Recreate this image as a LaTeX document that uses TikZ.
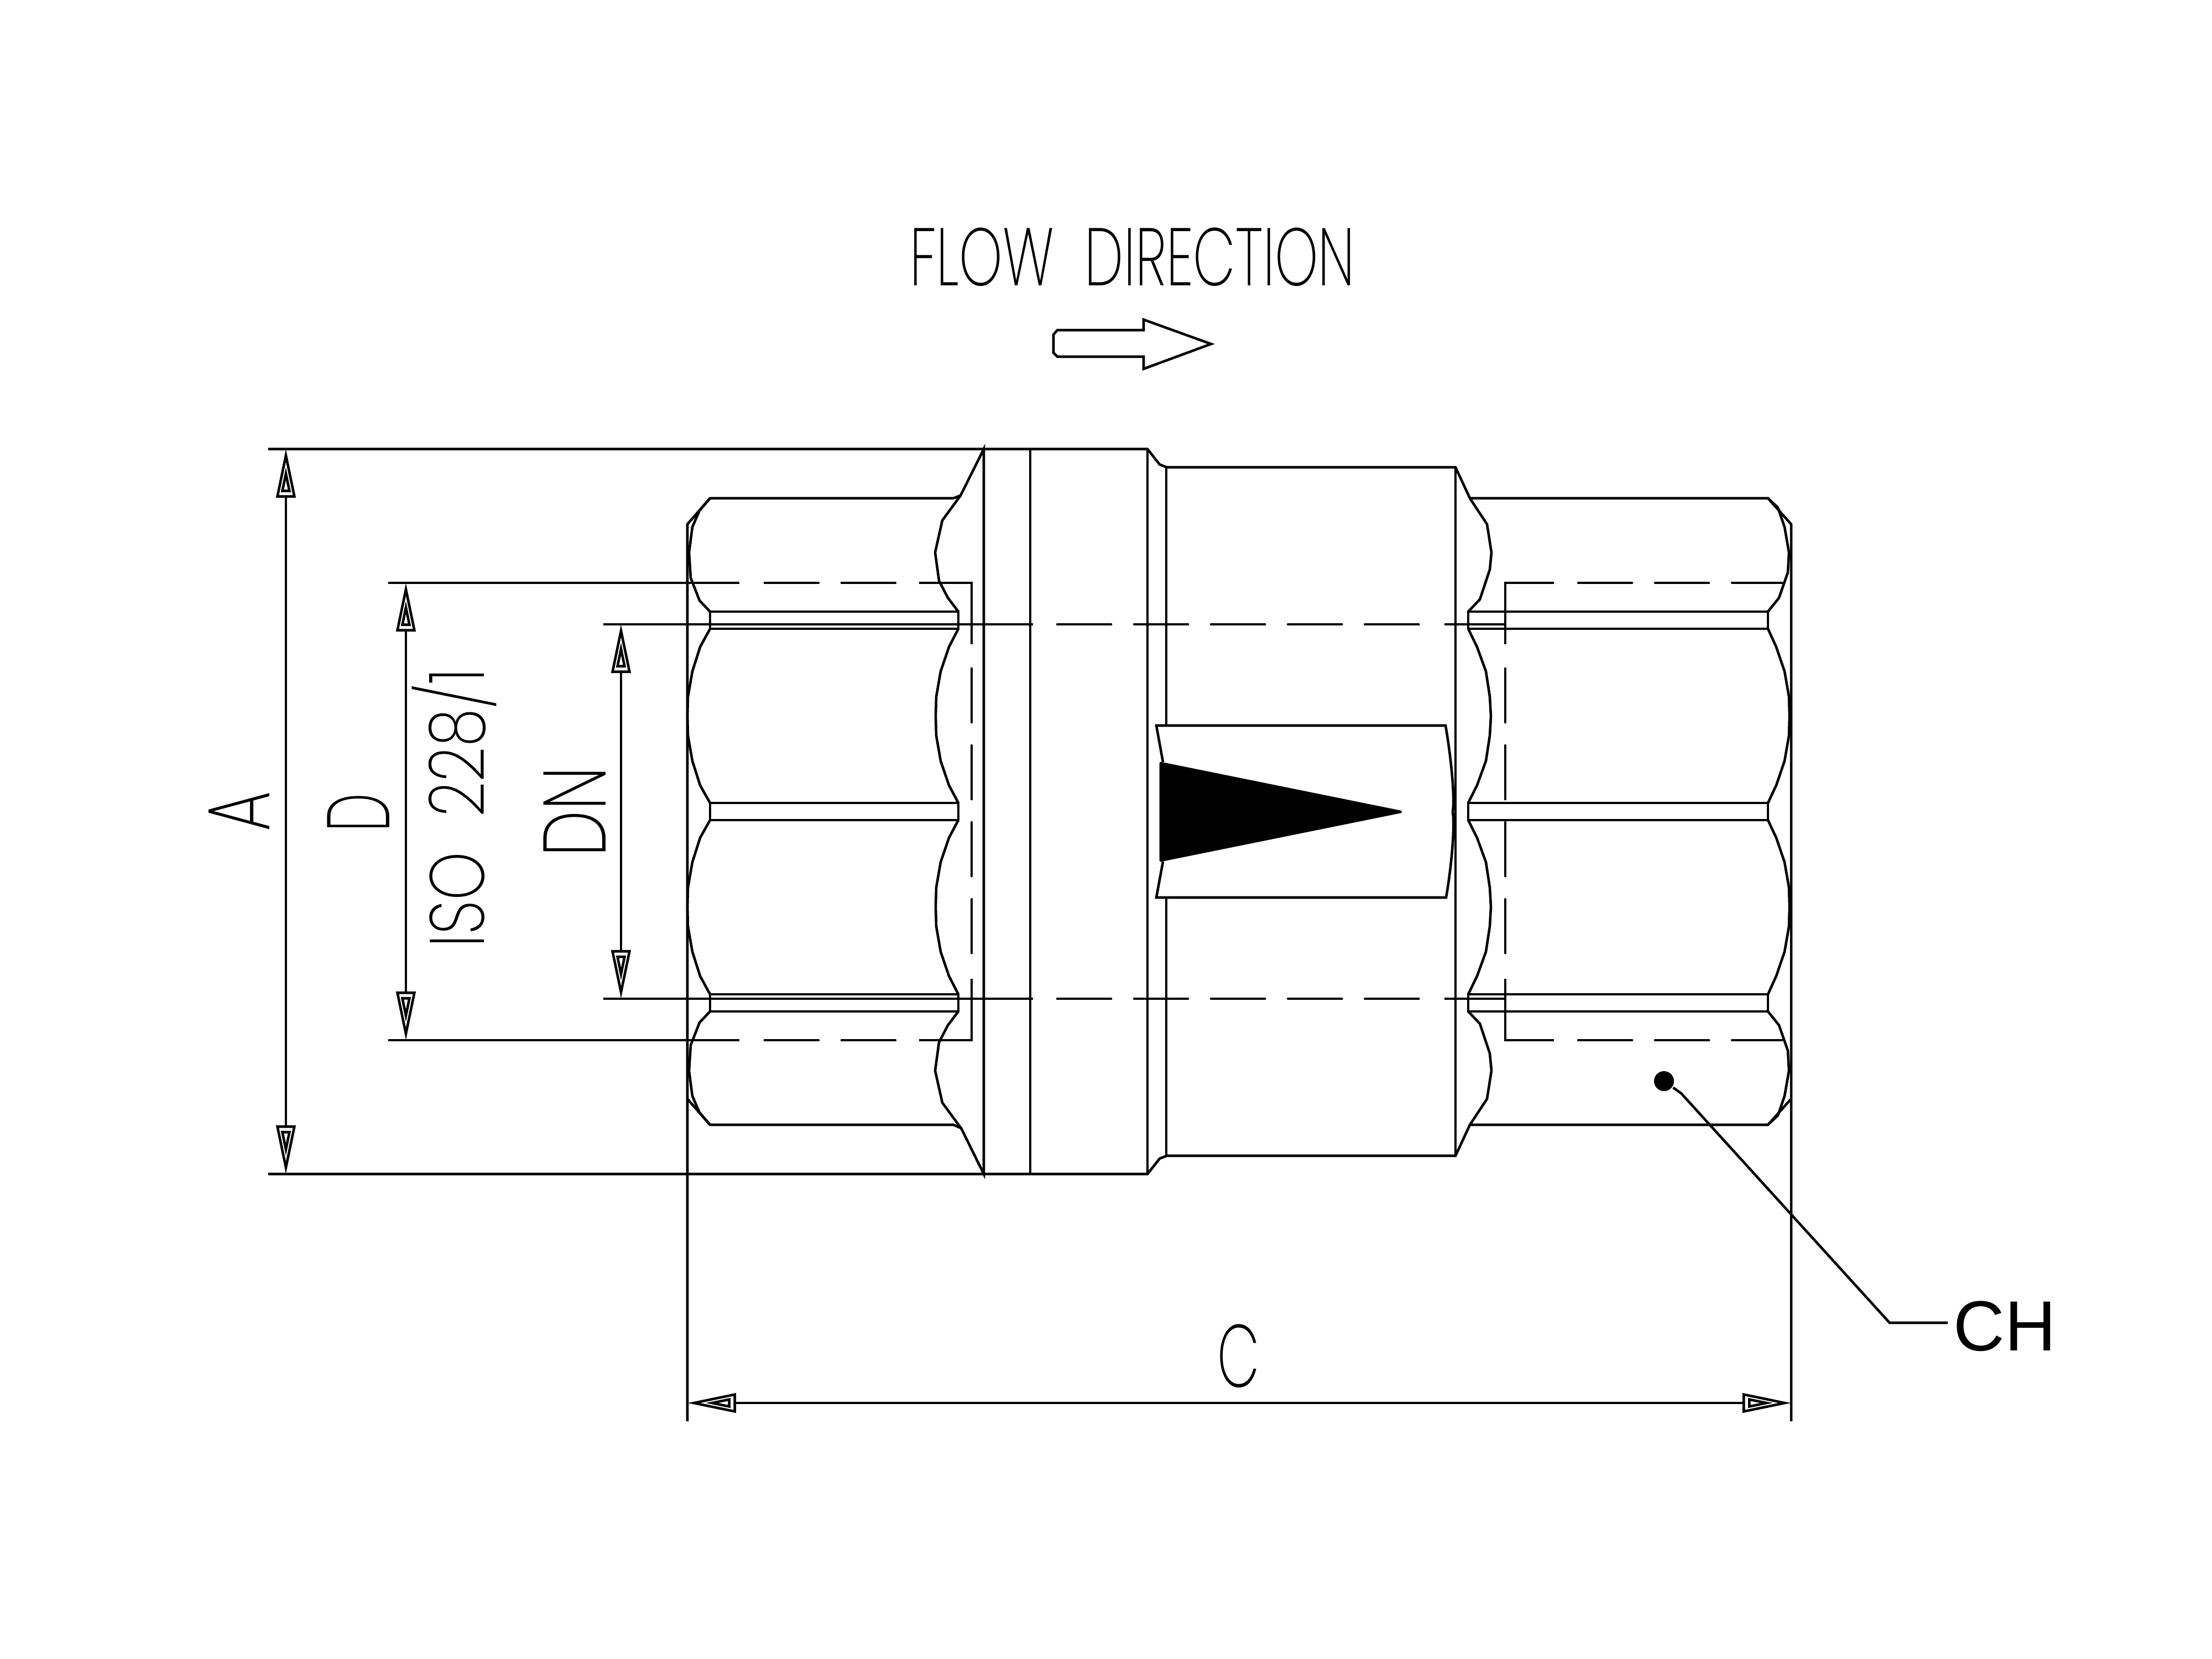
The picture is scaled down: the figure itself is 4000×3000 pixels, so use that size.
\documentclass[tikz,border=0pt]{standalone}
\usepackage{fontspec}
\usetikzlibrary{arrows.meta}
\newfontfamily\cadfont{Poppins ExtraLight}
\setmainfont{Liberation Sans}
\tikzset{dimtip/.tip={Triangle[open,length=4.6mm,width=1.7mm,sep=-5.6mm] Triangle[open,length=8.8mm,width=3.5mm]}}

\begin{document}
\begin{tikzpicture}[x=0.01cm,y=-0.01cm,line width=1.3pt]
\tikzstyle{every node}=[inner sep=0pt]
\tikzstyle{hidden}=[dash pattern=on 0.97cm off 0.42cm,line cap=round]
\tikzstyle{dimline}=[{dimtip}-{dimtip}]
\tikzstyle{cadtext}=[font=\cadfont\fontsize{45.6}{46}\selectfont]
\useasboundingbox (0,0) rectangle (4000,3000);
% dimension points
\coordinate (a1) at (517,812);
\coordinate (a2) at (517,2123);
\coordinate (d1) at (734,1054);
\coordinate (d2) at (734,1881);
\coordinate (n1) at (1123,1129);
\coordinate (n2) at (1123,1806);
\coordinate (c1) at (1243,2537);
\coordinate (c2) at (3239,2537);
\coordinate (e1) at (3417,2392);
\coordinate (e2) at (3522,2392);
% flanges
\draw (485,812) -- (2075,812) -- (2097,840) -- (2110,845) -- (2632,845) -- (2658,901) -- (3197,901) -- (3239,948) -- (3239,2570);
\draw (485,2123) -- (2075,2123) -- (2097,2095) -- (2110,2090) -- (2632,2090) -- (2658,2034) -- (3197,2034) -- (3239,1987);
\draw (1243,2570) -- (1243,948) -- (1284,901) -- (1724,901) -- (1737,896) -- (1779,812) -- (1779,2123) -- (1738,2040) -- (1724,2034) -- (1284,2034) -- (1243,1987);
\draw (1863,812) -- (1863,2123);
\draw (2075,812) -- (2075,2123);
\draw (2109,845) -- (2109,1312);
\draw (2109,1623) -- (2109,2090);
\draw (2632,845) -- (2632,2090);
% left hexagon
\draw (1284,901) -- (1265,923) -- (1252,953) -- (1246,999) -- (1249,1045) -- (1265,1086) -- (1284,1106);
\draw (1284,1137) -- (1266,1170) -- (1252,1214) -- (1244,1260) -- (1243,1295) -- (1244,1330) -- (1252,1376) -- (1266,1420) -- (1284,1452);
\draw (1284,1483) -- (1266,1515) -- (1252,1559) -- (1244,1605) -- (1243,1640) -- (1244,1675) -- (1252,1721) -- (1266,1765) -- (1284,1798);
\draw (1284,1829) -- (1265,1849) -- (1249,1890) -- (1246,1936) -- (1252,1982) -- (1265,2012) -- (1284,2034);
\draw (1737,896) -- (1704,941) -- (1691,999) -- (1698,1050) -- (1714,1081) -- (1733,1106);
\draw (1733,1137) -- (1716,1170) -- (1701,1214) -- (1693,1260) -- (1692,1295) -- (1693,1330) -- (1701,1376) -- (1716,1420) -- (1733,1452);
\draw (1733,1483) -- (1716,1515) -- (1701,1559) -- (1693,1605) -- (1692,1640) -- (1693,1675) -- (1701,1721) -- (1716,1765) -- (1733,1798);
\draw (1733,1829) -- (1714,1854) -- (1698,1885) -- (1691,1936) -- (1704,1994) -- (1737,2039);
\draw (1284,1106) rectangle (1733,1137);
\draw (1284,1452) rectangle (1733,1483);
\draw (1284,1798) rectangle (1733,1829);
% right hexagon
\draw (2658,901) -- (2689,948) -- (2697,999) -- (2694,1030) -- (2676,1084) -- (2655,1106);
\draw (2655,1137) -- (2671,1170) -- (2687,1214) -- (2694,1260) -- (2696,1295) -- (2694,1330) -- (2687,1376) -- (2671,1420) -- (2655,1452);
\draw (2655,1483) -- (2671,1515) -- (2687,1559) -- (2694,1605) -- (2696,1640) -- (2694,1675) -- (2687,1721) -- (2671,1765) -- (2655,1798);
\draw (2655,1829) -- (2676,1851) -- (2694,1905) -- (2697,1936) -- (2689,1987) -- (2658,2034);
\draw (3197,901) -- (3215,918) -- (3227,953) -- (3235,999) -- (3233,1035) -- (3217,1081) -- (3197,1106);
\draw (3197,1137) -- (3212,1170) -- (3227,1214) -- (3235,1260) -- (3236,1295) -- (3235,1330) -- (3227,1376) -- (3212,1420) -- (3197,1452);
\draw (3197,1483) -- (3212,1515) -- (3227,1559) -- (3235,1605) -- (3236,1640) -- (3235,1675) -- (3227,1721) -- (3212,1765) -- (3197,1798);
\draw (3197,1829) -- (3217,1854) -- (3233,1900) -- (3235,1936) -- (3227,1982) -- (3215,2017) -- (3197,2034);
\draw (2655,1106) rectangle (3197,1137);
\draw (2655,1452) rectangle (3197,1483);
\draw (2655,1798) rectangle (3197,1829);
% plate with arrow
\draw (2103,1378) -- (2091,1312) -- (2614,1312) .. controls (2624,1370) and (2631,1440) .. (2627,1468) .. controls (2631,1495) and (2625,1565) .. (2615,1623) -- (2091,1623) -- (2103,1558);
\draw [fill=black,line join=round] (2099,1380) -- (2533,1468) -- (2099,1556) -- cycle;
% hidden lines
\draw (702,1054) -- (1337,1054);
\draw [hidden] (1619,1054) -- (1381,1054);
\draw (1662,1054) -- (1757,1054) -- (1757,1165);
\draw [hidden] (1757,1209) -- (1757,1726);
\draw (1757,1770) -- (1757,1881) -- (1662,1881);
\draw [hidden] (1619,1881) -- (1381,1881);
\draw (702,1881) -- (1337,1881);
\draw (2810,1054) -- (2722,1054) -- (2722,1165);
\draw [hidden] (2854,1054) -- (3222,1054);
\draw [hidden] (2722,1209) -- (2722,1726);
\draw (2722,1770) -- (2722,1881) -- (2810,1881);
\draw [hidden] (2854,1881) -- (3222,1881);
\draw (1091,1129) -- (1868,1129);
\draw [hidden] (1912,1129) -- (2570,1129);
\draw (2612,1129) -- (2722,1129);
\draw (1091,1806) -- (1868,1806);
\draw [hidden] (1912,1806) -- (2570,1806);
\draw (2612,1806) -- (2722,1806);
% dimensions
\draw [dimline] (a1) -- (a2);
\draw [dimline] (d1) -- (d2);
\draw [dimline] (n1) -- (n2);
\draw [dimline] (c1) -- (c2);
\draw (432,1467) node (lblA) [rotate=90,xscale=.72,cadtext] {A};
\draw (648,1469) node (lblD) [rotate=90,xscale=.62,cadtext] {D};
\draw (821,1461) node (lblIso) [rotate=90,xscale=.8,cadtext,font=\cadfont\fontsize{39.6}{40}\selectfont] {ISO\ \ 228/1};
\draw (1039,1468) node (lblDn) [rotate=90,xscale=.74,cadtext] {DN};
\draw (2240,2452) node (lblC) [xscale=.62,cadtext] {C};
% flow arrow
\draw (2048,465) node (lblFlow) [xscale=.675,cadtext,font=\cadfont\fontsize{42}{42}\selectfont] {FLOW\ \ DIRECTION};
\draw (1912,597) -- (2068,597) -- (2068,578) -- (2190,622) -- (2068,667) -- (2068,645) -- (1912,645) -- (1905,638) -- (1905,605) -- cycle;
% wrench size leader
\draw (3009,1955) node (chdot) [circle,fill=black,minimum size=0.36cm] {};
\draw (3625,2398) node (lblCh) [font=\fontsize{36.5}{37}\selectfont] {CH};
\draw (chdot) -- (3040,1977) -- (e1) -- (e2);
\end{tikzpicture}
\end{document}
